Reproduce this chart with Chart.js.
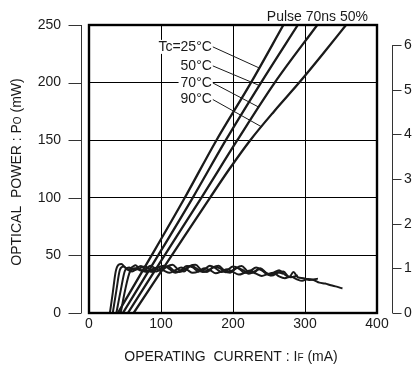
<!DOCTYPE html>
<html>
<head>
<meta charset="utf-8">
<script src="https://cdn.jsdelivr.net/npm/chart.js@4.4.0/dist/chart.umd.min.js"></script>
<style>
  html, body { margin: 0; padding: 0; background: #fff; }
  #wrap { width: 414px; height: 367px; }
</style>
</head>
<body>
<div id="wrap"><canvas id="canvas1"></canvas></div>
<script>
const canvas1 = document.getElementById('canvas1');

// axis ranges / ticks
const currentTicks = [0, 100, 200, 300, 400];
const powerTicks = [0, 50, 100, 150, 200, 250];
const effTicks = [0, 1, 2, 3, 4, 5, 6];
const tempLabels = ['Tc=25°C', '50°C', '70°C', '90°C'];

// optical power vs current, [mA, mW]
const li25 = [[40, 0], [87, 50], [133, 100], [177, 150], [225, 200], [270, 250]];
const li50 = [[47, 0], [96, 50], [144, 100], [190, 150], [239, 200], [290, 250]];
const li70 = [[54, 0], [105, 50], [156, 100], [206, 150], [258, 200], [317, 250]];
const li90 = [[62, 0], [115, 50], [168, 100], [195, 125], [224, 150], [257, 175], [292, 200], [325, 225], [357, 250]];

// slope curves read against the right axis, [mA, value]
const sl25 = [[29, 0], [33, 0.45], [37, 0.92], [41, 1.08], [45, 1.1], [50, 1.02], [55, 0.97], [60, 1.03], [65, 1.07], [70, 0.98],
  [77, 0.95], [85, 1.06], [92, 1.0], [100, 0.94], [108, 1.04], [116, 1.08], [124, 0.97], [132, 0.93], [140, 1.05], [148, 1.08],
  [156, 0.96], [164, 0.92], [172, 1.02], [180, 1.06], [188, 0.95], [196, 0.9], [204, 1.0], [212, 1.05], [220, 0.94], [228, 0.9],
  [236, 0.98], [244, 0.92], [252, 0.84], [260, 0.92], [270, 0.88]];
const sl50 = [[33, 0], [38, 0.5], [43, 0.97], [48, 1.04], [54, 0.97], [60, 0.93], [66, 1.0], [72, 1.05], [80, 0.96], [88, 0.92],
  [96, 1.02], [104, 1.06], [112, 0.98], [120, 0.9], [128, 0.96], [136, 1.05], [144, 1.02], [152, 0.93], [160, 0.97], [168, 1.06],
  [176, 1.0], [184, 0.92], [192, 0.96], [200, 1.04], [208, 1.0], [216, 0.9], [224, 0.94], [232, 1.02], [240, 0.96], [248, 0.86],
  [256, 0.9], [264, 0.96], [272, 0.86], [280, 0.8], [290, 0.84]];
const sl70 = [[38, 0], [44, 0.5], [50, 0.95], [56, 1.02], [63, 0.96], [70, 1.0], [78, 1.04], [86, 0.97], [94, 0.93], [102, 1.01],
  [110, 1.04], [118, 0.95], [126, 0.92], [134, 0.99], [142, 1.06], [150, 0.99], [158, 0.92], [166, 0.96], [174, 1.03], [182, 1.0],
  [190, 0.91], [198, 0.94], [206, 1.01], [214, 0.96], [222, 0.88], [230, 0.93], [238, 1.0], [246, 0.9], [254, 0.84], [262, 0.9],
  [270, 0.93], [278, 0.8], [284, 0.92], [290, 0.8], [298, 0.78], [306, 0.74], [318, 0.77]];
const sl90 = [[44, 0], [50, 0.5], [57, 0.93], [64, 1.0], [72, 0.95], [80, 0.92], [88, 0.98], [96, 1.02], [104, 0.95], [112, 0.9],
  [120, 0.96], [128, 1.02], [136, 0.97], [144, 0.9], [152, 0.93], [160, 1.0], [168, 0.96], [176, 0.89], [184, 0.93], [192, 0.98],
  [200, 0.92], [208, 0.86], [216, 0.9], [224, 0.95], [232, 0.88], [240, 0.83], [248, 0.87], [256, 0.9], [264, 0.82], [272, 0.78],
  [280, 0.82], [288, 0.76], [296, 0.72], [304, 0.76], [312, 0.74], [320, 0.68], [328, 0.66], [336, 0.62], [344, 0.59], [352, 0.55]];

const liCurves = [li25, li50, li70, li90];
const slCurves = [sl25, sl50, sl70, sl90];

// where the temperature labels sit and where their leaders touch the lines (data units)
const labelAtI = 172;
const labelAtP = [231, 214.5, 199.7, 185.3];
const leaderToP = [212.7, 197.5, 178.7, 161.7];

const FONT = 'Liberation Sans, Arial, sans-serif';
const INK = '#1a1a1a';

function pts(arr) { return arr.map(p => ({ x: p[0], y: p[1] })); }

function xOnLine(points, y) {
  for (let i = 1; i < points.length; i++) {
    const a = points[i - 1], b = points[i];
    if (y >= a[1] && y <= b[1]) return a[0] + (y - a[1]) / (b[1] - a[1]) * (b[0] - a[0]);
  }
  return points[points.length - 1][0];
}

// text with small letters (Po, IF)
function drawParts(ctx, parts, x, y) {
  let w = 0;
  parts.forEach(p => { ctx.font = p[1] + 'px ' + FONT; w += ctx.measureText(p[0]).width; });
  let cx = x - w / 2;
  ctx.textAlign = 'left';
  ctx.textBaseline = 'alphabetic';
  parts.forEach(p => {
    ctx.font = p[1] + 'px ' + FONT;
    ctx.fillText(p[0], cx, y);
    cx += ctx.measureText(p[0]).width;
  });
}

const decorations = {
  id: 'decorations',
  afterDatasetsDraw(chart) {
    const ctx = chart.ctx;
    const area = chart.chartArea;
    const xs = chart.scales.x, ys = chart.scales.y, ys2 = chart.scales.y2;
    ctx.save();

    // temperature labels + leaders
    ctx.font = '14px ' + FONT;
    tempLabels.forEach((t, i) => {
      const tx = xs.getPixelForValue(labelAtI);
      const ty = ys.getPixelForValue(labelAtP[i]);
      const w = ctx.measureText(t).width;
      ctx.fillStyle = '#fff';
      ctx.fillRect(tx - w - 3, ty - 7, w + 3, 14);
      ctx.fillStyle = INK;
      ctx.textAlign = 'right';
      ctx.textBaseline = 'middle';
      ctx.fillText(t, tx - 1, ty);
      const ex = xs.getPixelForValue(xOnLine(liCurves[i], leaderToP[i]));
      const ey = ys.getPixelForValue(leaderToP[i]);
      ctx.strokeStyle = INK;
      ctx.lineWidth = 1;
      ctx.beginPath();
      ctx.moveTo(tx, ty);
      ctx.lineTo(ex, ey);
      ctx.stroke();
    });

    // plot frame
    ctx.strokeStyle = '#000';
    ctx.lineWidth = 2.4;
    ctx.strokeRect(area.left, area.top, area.right - area.left, area.bottom - area.top);

    // detached left axis
    const lx = Math.round(area.left - 8) + 0.5;
    ctx.strokeStyle = '#333';
    ctx.lineWidth = 1;
    ctx.beginPath();
    ctx.moveTo(lx, ys.getPixelForValue(250));
    ctx.lineTo(lx, ys.getPixelForValue(0));
    powerTicks.forEach(v => {
      const py = Math.round(ys.getPixelForValue(v)) + 0.5;
      ctx.moveTo(lx, py);
      ctx.lineTo(lx - 13, py);
    });
    ctx.stroke();

    // detached right axis
    const rx = Math.round(area.right + 15) + 0.5;
    ctx.beginPath();
    ctx.moveTo(rx, ys2.getPixelForValue(6));
    ctx.lineTo(rx, ys2.getPixelForValue(0));
    effTicks.forEach(v => {
      const py = Math.round(ys2.getPixelForValue(v)) + 0.5;
      ctx.moveTo(rx, py);
      ctx.lineTo(rx + 9, py);
    });
    ctx.stroke();

    // titles
    ctx.fillStyle = INK;
    ctx.font = '14px ' + FONT;
    ctx.textAlign = 'right';
    ctx.textBaseline = 'alphabetic';
    ctx.fillText('Pulse 70ns 50%', area.right - 9, area.top - 4);

    drawParts(ctx, [['OPERATING  CURRENT : I', 14], ['F', 10], [' (mA)', 14]],
      (area.left + area.right) / 2 - 2, chart.height - 6);

    ctx.translate(21, (area.top + area.bottom) / 2 + 3);
    ctx.rotate(-Math.PI / 2);
    drawParts(ctx, [['OPTICAL  POWER : P', 14], ['O', 10], [' (mW)', 14]], 0, 0);
    ctx.restore();
  }
};

function noPad(s) { s.paddingTop = 0; s.paddingBottom = 0; s.paddingLeft = 0; s.paddingRight = 0; }

const datasets = [];
liCurves.forEach((c, i) => datasets.push({
  label: tempLabels[i], data: pts(c), yAxisID: 'y',
  borderColor: INK, borderWidth: 2.3, pointRadius: 0, cubicInterpolationMode: 'monotone'
}));
slCurves.forEach((c, i) => datasets.push({
  label: tempLabels[i] + ' slope', data: pts(c), yAxisID: 'y2',
  borderColor: INK, borderWidth: 2, pointRadius: 0, cubicInterpolationMode: 'monotone'
}));

new Chart(canvas1, {
  type: 'line',
  data: { datasets: datasets },
  options: {
    animation: false,
    responsive: true,
    maintainAspectRatio: false,
    layout: { padding: { top: 25, left: 0, right: 0, bottom: 0 } },
    plugins: { legend: { display: false }, tooltip: { enabled: false } },
    scales: {
      x: {
        type: 'linear', min: 0, max: 400,
        afterBuildTicks: s => { s.ticks = currentTicks.map(v => ({ value: v })); },
        afterFit: s => { s.height = 54; noPad(s); },
        grid: { color: '#000', lineWidth: 1, drawTicks: false },
        border: { display: false },
        ticks: { padding: 3, color: INK, font: { family: FONT, size: 14 } }
      },
      y: {
        type: 'linear', position: 'left', min: 0, max: 250,
        afterBuildTicks: s => { s.ticks = powerTicks.map(v => ({ value: v })); },
        afterFit: s => { s.width = 89; noPad(s); },
        grid: { color: '#000', lineWidth: 1, drawTicks: false },
        border: { display: false },
        ticks: { padding: 28, color: INK, font: { family: FONT, size: 14 } }
      },
      y2: {
        type: 'linear', position: 'right', min: 0, max: 6.45,
        afterBuildTicks: s => { s.ticks = effTicks.map(v => ({ value: v })); },
        afterFit: s => { s.width = 37; noPad(s); },
        grid: { display: false, drawTicks: false },
        border: { display: false },
        ticks: { padding: 27, color: INK, font: { family: FONT, size: 14 } }
      }
    }
  },
  plugins: [decorations]
});
</script>
</body>
</html>
